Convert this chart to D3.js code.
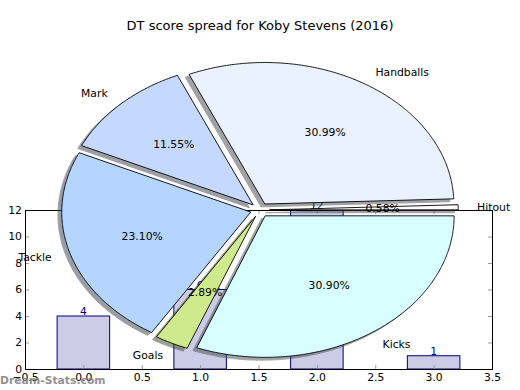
<!DOCTYPE html>
<html><head><meta charset="utf-8">
<script src="https://cdn.jsdelivr.net/npm/d3@7"></script>
<style>
html,body{margin:0;padding:0;background:#fff;}
svg{display:block;font-family:"DejaVu Sans",sans-serif;}
</style></head>
<body><svg id="c" width="520" height="390"></svg>
<script>
// ---- data ----
const title = "DT score spread for Koby Stevens (2016)";
const pieLabels = ["Hitout", "Handballs", "Mark", "Tackle", "Goals", "Kicks"];
const pieValues = [0.58, 30.99, 11.55, 23.10, 2.89, 30.90];
const pieColors = ["#fbfbff", "#eaf1ff", "#c5d9ff", "#b4d5ff", "#cfea8c", "#d8ffff"];
const barCats = [0, 1, 2, 3];
const barValues = [4, 6, 12, 1];
const xTicks = [-0.5, 0, 0.5, 1, 1.5, 2, 2.5, 3, 3.5];
const yTicks = [0, 2, 4, 6, 8, 10, 12];
const watermark = "Dream-Stats.com";

const svg = d3.select("#c");
const fs = 10.8;

// ---- bar chart axes ----
const bx = d3.scaleLinear().domain([-0.5, 3.5]).range([25, 492]);
const by = d3.scaleLinear().domain([0, 12]).range([369, 210]);
const barW = 0.45;
const gb = svg.append("g");

gb.selectAll("rect.bar").data(barValues).join("rect")
  .attr("x", (d, i) => bx(barCats[i] - barW / 2))
  .attr("width", (d, i) => bx(barCats[i] + barW / 2) - bx(barCats[i] - barW / 2))
  .attr("y", d => by(d)).attr("height", d => by(0) - by(d))
  .attr("fill", "#ccccE6").attr("stroke", "#000080").attr("stroke-width", 1);
gb.selectAll("text.bl").data(barValues).join("text")
  .attr("x", (d, i) => bx(barCats[i])).attr("y", d => by(d) - 1)
  .attr("text-anchor", "middle").attr("font-size", fs).attr("fill", "#000080")
  .text(d => d);

function styleAxis(g) {
  g.select(".domain").remove();
  g.selectAll(".tick line").attr("stroke", "#999");
  g.selectAll(".tick text").attr("font-size", fs).attr("font-family", "DejaVu Sans").attr("fill", "#000");
}
gb.append("g").attr("transform", `translate(0,${by(0)})`)
  .call(d3.axisBottom(bx).tickValues(xTicks).tickFormat(d3.format(".1f")).tickSizeInner(-4).tickSizeOuter(0).tickPadding(4))
  .call(styleAxis);
gb.append("g").attr("transform", `translate(0,${by(12)})`)
  .call(d3.axisTop(bx).tickValues(xTicks).tickFormat("").tickSizeInner(-4).tickSizeOuter(0))
  .call(styleAxis);
gb.append("g").attr("transform", `translate(${bx(-0.5)},0)`)
  .call(d3.axisLeft(by).tickValues(yTicks).tickFormat(d3.format("d")).tickSizeInner(-4).tickSizeOuter(0).tickPadding(3))
  .call(styleAxis);
gb.append("g").attr("transform", `translate(${bx(3.5)},0)`)
  .call(d3.axisRight(by).tickValues(yTicks).tickFormat("").tickSizeInner(-4).tickSizeOuter(0))
  .call(styleAxis);
gb.append("rect").attr("x", bx(-0.5) + 0.5).attr("y", by(12) + 0.5)
  .attr("width", bx(3.5) - bx(-0.5)).attr("height", by(0) - by(12))
  .attr("fill", "none").attr("stroke", "#000").attr("stroke-width", 1);

// ---- pie ----
const cx = 259.8, cy = 210, Rx = 189, Ry = 141.5;
const px = d3.scaleLinear().domain([-1, 1]).range([cx - Rx, cx + Rx]);
const py = d3.scaleLinear().domain([-1, 1]).range([cy + Ry, cy - Ry]);
const explode = 0.05;
const arcs = d3.pie().sort(null).value(d => d)(pieValues).map((a, i) => {
  const t1 = a.startAngle, t2 = a.endAngle; // fraction*2pi, used CCW from 3 o'clock
  const mid = (t1 + t2) / 2;
  return {i, t1, t2, mid, ox: explode * Math.cos(mid), oy: explode * Math.sin(mid)};
});
const total = d3.sum(pieValues);
const line = d3.line().x(p => px(p[0])).y(p => py(p[1]));
function wedgePts(a, sx, sy) {
  const pts = [[a.ox + sx, a.oy + sy]];
  const n = Math.max(2, Math.ceil((a.t2 - a.t1) / (Math.PI / 360)));
  for (let k = 0; k <= n; k++) {
    const t = a.t1 + (a.t2 - a.t1) * k / n;
    pts.push([a.ox + sx + Math.cos(t), a.oy + sy + Math.sin(t)]);
  }
  pts.push(pts[0]);
  return pts;
}
const gp = svg.append("g");
function darker(c) { const r = d3.rgb(c); return d3.rgb(r.r * 0.3, r.g * 0.3, r.b * 0.3).toString(); }
gp.selectAll("path.sh").data(arcs).join("path")
  .attr("d", a => line(wedgePts(a, -0.02, -0.02)))
  .attr("fill", a => darker(pieColors[a.i])).attr("stroke", a => darker(pieColors[a.i]))
  .attr("opacity", 0.5).attr("stroke-width", 1).attr("stroke-linejoin", "miter");
gp.selectAll("path.w").data(arcs).join("path")
  .attr("d", a => line(wedgePts(a, 0, 0)))
  .attr("fill", a => pieColors[a.i]).attr("stroke", "#000").attr("stroke-width", 0.9)
  .attr("stroke-linejoin", "miter");
gp.selectAll("text.pl").data(arcs).join("text")
  .attr("x", a => px(a.ox + 1.1 * Math.cos(a.mid)))
  .attr("y", a => py(a.oy + 1.1 * Math.sin(a.mid)))
  .attr("text-anchor", a => Math.cos(a.mid) > 0 ? "start" : "end")
  .attr("dominant-baseline", "central").attr("font-size", fs)
  .text(a => pieLabels[a.i]);
gp.selectAll("text.pc").data(arcs).join("text")
  .attr("x", a => px(a.ox + 0.6 * Math.cos(a.mid)))
  .attr("y", a => py(a.oy + 0.6 * Math.sin(a.mid)))
  .attr("text-anchor", "middle").attr("dominant-baseline", "central").attr("font-size", fs)
  .text(a => (pieValues[a.i] / total * 100).toFixed(2) + "%");

// ---- title & watermark ----
svg.append("text").attr("x", 260).attr("y", 30).attr("text-anchor", "middle")
  .attr("font-size", 13).text(title);
svg.append("text").attr("x", 0).attr("y", 384).attr("font-size", 10.8).attr("font-weight", "bold")
  .attr("fill", "#808080").attr("opacity", 0.85).text(watermark);
</script></body></html>
